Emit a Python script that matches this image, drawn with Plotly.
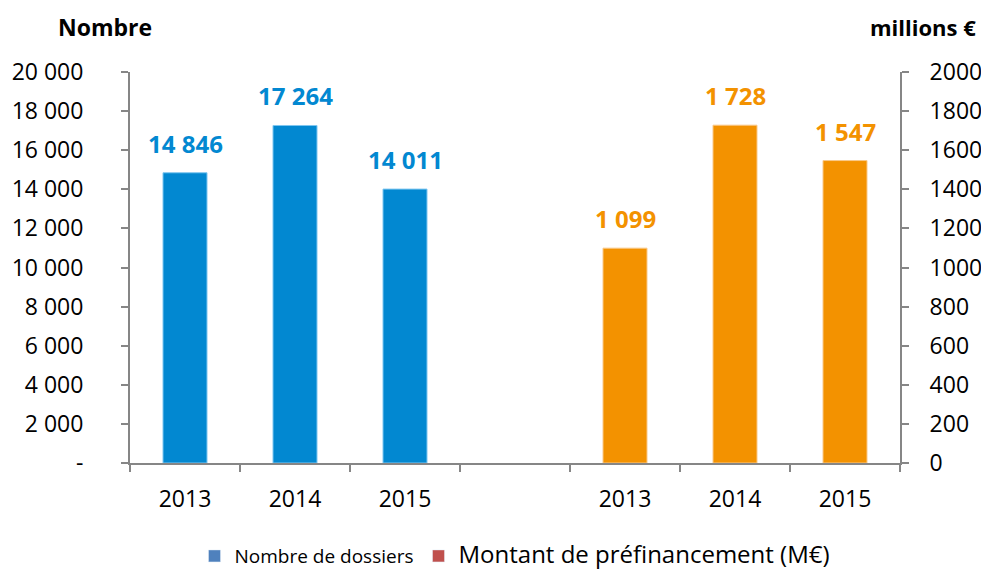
import plotly.graph_objects as go

years = ["2013", "2014", "2015"]
dossiers = [14846, 17264, 14011]
montant = [1099, 1728, 1547]
left_ticks = [0, 2000, 4000, 6000, 8000, 10000, 12000, 14000, 16000, 18000, 20000]
right_ticks = [0, 200, 400, 600, 800, 1000, 1200, 1400, 1600, 1800, 2000]

BLUE = "#0288D1"
ORANGE = "#F39200"
FONT = "Open Sans"
AXIS = "#868686"

def fmt(v):
    return f"{v:,}".replace(",", " ")

left_cats = list(years)
gap_cat = [" "]
right_cats = ["\u200b" + y for y in years]
all_cats = left_cats + gap_cat + right_cats

fig = go.Figure()
fig.add_trace(go.Bar(x=left_cats, y=dossiers, marker=dict(color=BLUE, line=dict(color="#7FC6F0", width=1)),
                     width=0.4, showlegend=False, yaxis="y"))
fig.add_trace(go.Bar(x=right_cats, y=montant, marker=dict(color=ORANGE, line=dict(color="#F9C98A", width=1)),
                     width=0.4, showlegend=False, yaxis="y2"))
# legend-only entries
fig.add_trace(go.Bar(x=[None], y=[None], marker_color="#4F81BD",
                     name='<span style="font-size:19px">Nombre de dossiers</span>'))
fig.add_trace(go.Bar(x=[None], y=[None], marker_color="#C0504D",
                     name='<span style="font-size:24px">Montant de préfinancement (M€)</span>'))

annotations = []
for c, v in zip(left_cats, dossiers):
    annotations.append(dict(x=all_cats.index(c), y=v, xref="x", yref="y", text=f"<b>{fmt(v)}</b>",
                            showarrow=False, yanchor="bottom", yshift=11,
                            font=dict(color=BLUE, size=24, family=FONT)))
for c, v in zip(right_cats, montant):
    annotations.append(dict(x=all_cats.index(c), y=v, xref="x", yref="y2", text=f"<b>{fmt(v)}</b>",
                            showarrow=False, yanchor="bottom", yshift=11,
                            font=dict(color=ORANGE, size=24, family=FONT)))
annotations.append(dict(x=-0.032, y=1.115, xref="paper", yref="paper", xanchor="center", yanchor="middle",
                        text="<b>Nombre</b>", showarrow=False, font=dict(size=23, family=FONT, color="black")))
annotations.append(dict(x=1.0305, y=1.115, xref="paper", yref="paper", xanchor="center", yanchor="middle",
                        text="<b>millions €</b>", showarrow=False, font=dict(size=22, family=FONT, color="black")))

left_text = ["-"] + [fmt(v) for v in left_ticks[1:]]

fig.update_layout(
    width=981, height=571,
    margin=dict(l=130, r=81, t=72, b=108, autoexpand=False),
    paper_bgcolor="white", plot_bgcolor="white",
    font=dict(family=FONT, size=23, color="black"),
    barmode="overlay",
    xaxis=dict(type="category", categoryorder="array", categoryarray=all_cats, range=[-0.5, 6.5],
               tickson="boundaries", ticks="outside", ticklen=7, tickcolor=AXIS, tickwidth=2,
               showline=True, linecolor=AXIS, linewidth=2, showgrid=False, automargin=False,
               ticklabelstandoff=14, tickfont=dict(size=23, family=FONT)),
    yaxis=dict(range=[0, 20000], tickvals=left_ticks, ticktext=left_text, ticks="outside", ticklen=7,
               tickcolor=AXIS, tickwidth=2, showline=True, linecolor=AXIS, linewidth=2, showgrid=False,
               zeroline=False, automargin=False, ticklabelstandoff=33, tickfont=dict(size=23, family=FONT)),
    yaxis2=dict(range=[0, 2000], tickvals=right_ticks, overlaying="y", side="right", ticks="outside",
                ticklen=7, tickcolor=AXIS, tickwidth=2, showline=True, linecolor=AXIS, linewidth=2,
                showgrid=False, zeroline=False, automargin=False, ticklabelstandoff=16,
                tickfont=dict(size=23, family=FONT)),
    legend=dict(orientation="h", x=0.5, xanchor="center", y=-0.238, yanchor="middle",
                font=dict(size=19, family=FONT), itemwidth=30, traceorder="normal"),
    annotations=annotations,
)

fig.write_html("out.html", config={"displayModeBar": False},
               post_script="document.body.style.margin='0';document.body.style.overflow='hidden';")
